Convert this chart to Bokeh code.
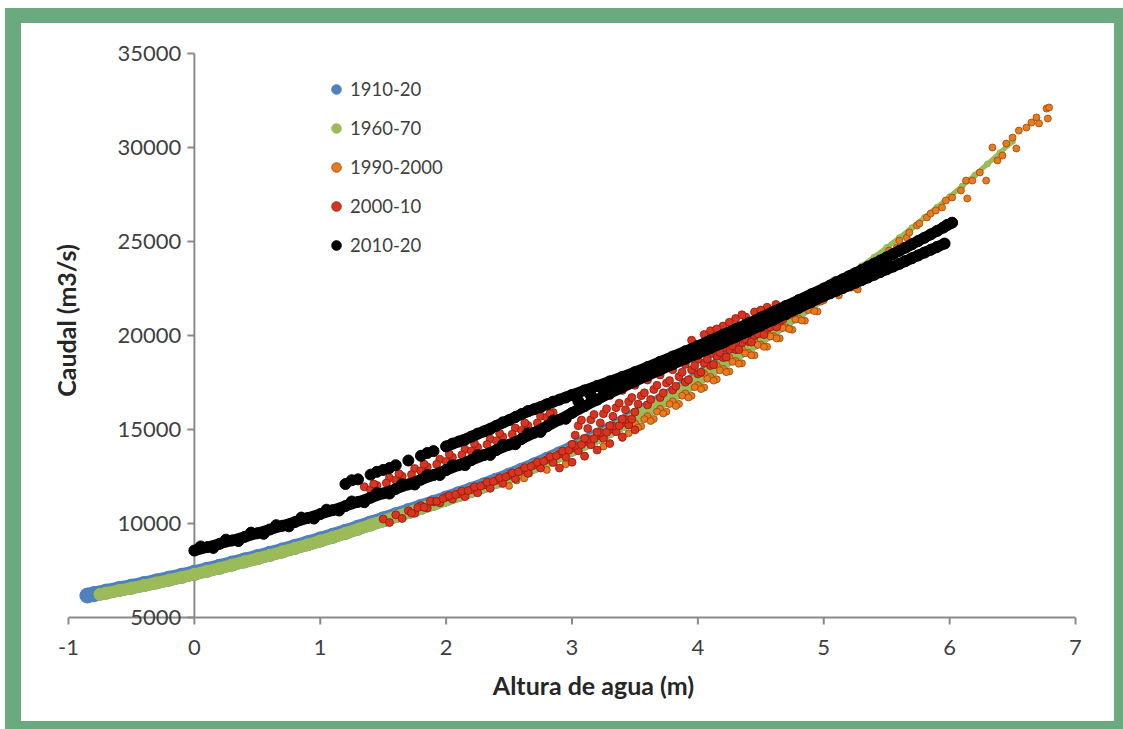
import numpy as np
from bokeh.plotting import figure
from bokeh.models import Range1d, Label, Legend, LegendItem
from bokeh.embed import file_html
from bokeh.resources import INLINE
from bokeh.core.properties import value

# ---------------- axes / labels ----------------
x_ticks = [-1, 0, 1, 2, 3, 4, 5, 6, 7]
y_ticks = [5000, 10000, 15000, 20000, 25000, 30000, 35000]
x_tick_labels = ["-1", "0", "1", "2", "3", "4", "5", "6", "7"]
y_tick_labels = ["5000", "10000", "15000", "20000", "25000", "30000", "35000"]
series_names = ["1910-20", "1960-70", "1990-2000", "2000-10", "2010-20"]
x_title = "Altura de agua (m)"
y_title = "Caudal (m3/s)"

# ---------------- 1910-20 (blue) ----------------
blue_x = [-0.85, -0.8, -0.7, -0.6, -0.5, -0.4, -0.3, -0.2, -0.1,
          0.0, 0.1, 0.2, 0.3, 0.4, 0.5, 0.6, 0.7, 0.8, 0.9,
          1.0, 1.1, 1.2, 1.3, 1.4, 1.5, 1.6, 1.7, 1.8, 1.9,
          2.0, 2.1, 2.2, 2.3, 2.4, 2.5, 2.6, 2.7, 2.8, 2.9,
          3.0, 3.1, 3.2, 3.3, 3.4, 3.5, 3.6, 3.7, 3.8, 3.9,
          4.0, 4.1, 4.2, 4.3, 4.4, 4.5, 4.6, 4.7, 4.8, 4.9,
          5.0, 5.1]
blue_y = [6170, 6240, 6380, 6510, 6640, 6780, 6920, 7070, 7220,
          7380, 7540, 7700, 7870, 8040, 8210, 8390, 8570, 8760, 8950,
          9150, 9350, 9560, 9780, 10000, 10220, 10440, 10660, 10880, 11100,
          11330, 11560, 11790, 12030, 12280, 12540, 12810, 13090, 13380, 13680,
          13990, 14310, 14640, 14980, 15340, 15710, 16090, 16480, 16880, 17300,
          17740, 18180, 18610, 19030, 19460, 19900, 20350, 20810, 21280, 21760,
          22250, 22750]

# ---------------- 1960-70 (green) ----------------
green_x = [-0.75, -0.7, -0.6, -0.5, -0.4, -0.3, -0.2, -0.1,
           0.0, 0.1, 0.2, 0.3, 0.4, 0.5, 0.6, 0.7, 0.8, 0.9,
           1.0, 1.1, 1.2, 1.3, 1.4, 1.5, 1.6, 1.7, 1.8, 1.9,
           2.0, 2.1, 2.2, 2.3, 2.4, 2.5, 2.6, 2.7, 2.8, 2.9,
           3.0, 3.1, 3.2, 3.3, 3.4, 3.5, 3.6, 3.7, 3.8, 3.9,
           4.0, 4.1, 4.2, 4.3, 4.4, 4.5, 4.6, 4.7, 4.8, 4.9,
           5.0, 5.1, 5.2, 5.3, 5.4, 5.5, 5.6, 5.7, 5.8, 5.9,
           6.0, 6.1, 6.2, 6.3, 6.4, 6.5]
green_y = [6230, 6300, 6430, 6560, 6700, 6840, 6990, 7140,
           7300, 7460, 7620, 7790, 7960, 8130, 8310, 8490, 8680, 8870,
           9070, 9270, 9480, 9700, 9920, 10140, 10360, 10580, 10800, 11020,
           11250, 11480, 11710, 11950, 12200, 12460, 12730, 13010, 13300, 13600,
           13910, 14230, 14560, 14900, 15260, 15630, 16010, 16400, 16800, 17220,
           17660, 18100, 18530, 18950, 19380, 19820, 20270, 20730, 21200, 21680,
           22170, 22670, 23180, 23700, 24170, 24680, 25200, 25730, 26270, 26820,
           27380, 27950, 28530, 29120, 29720, 30330]

# ---------------- 1990-2000 (orange) ----------------
orange_low_x = [2.5, 2.56, 2.62, 2.66, 2.8, 2.95, 3.1, 3.25, 3.4]
orange_low_y = [12000, 12290, 12400, 12660, 12850, 13150, 13600, 14100, 14550]
orange_a_x = [3.5, 3.6, 3.7, 3.8, 3.9, 4.0, 4.1, 4.2, 4.3, 4.4, 4.5, 4.6, 4.7, 4.8, 4.9, 5.0]
orange_a_y = [15330, 15710, 16100, 16500, 16920, 17360, 17800, 18230, 18650, 19080, 19520, 19970,
              20430, 20900, 21380, 21870]
orange_b_x = [3.45, 3.55, 3.65, 3.75, 3.85, 3.95, 4.05, 4.15, 4.25, 4.35, 4.45, 4.55, 4.65, 4.75, 4.85, 4.95]
orange_b_y = [14800, 15170, 15560, 15950, 16360, 16790, 17230, 17670, 18090, 18520, 18950, 19400,
              19850, 20310, 20790, 21280]
orange_c_x = [4.05, 4.15, 4.25, 4.35, 4.45, 4.55, 4.65, 4.75, 4.85, 4.95, 5.05]
orange_c_y = [17980, 18420, 18840, 19270, 19700, 20150, 20600, 21070, 21540, 22030, 22520]
orange_d_x = [3.525, 3.575, 3.625, 3.675, 3.725, 3.775, 3.825, 3.875, 3.925, 3.975,
              4.025, 4.075, 4.125, 4.175, 4.225, 4.275, 4.325, 4.375, 4.425, 4.475,
              4.525, 4.575, 4.625, 4.675, 4.725, 4.775, 4.825, 4.875, 4.925, 4.975, 5.025, 5.075]
orange_d_y = [15100, 15550, 15450, 15950, 15850, 16350, 16250, 16800, 16700, 17250,
              17150, 17700, 17600, 18150, 18050, 18600, 18500, 19050, 18950, 19500,
              19400, 19950, 19850, 20400, 20350, 20850, 20800, 21350, 21300, 21800, 22250, 22600]
orange_top_x = [5.12, 5.22, 5.27, 5.31, 5.40, 5.44, 5.50, 5.52, 5.58, 5.60,
                5.66, 5.68, 5.74, 5.76, 5.82, 5.85, 5.89, 5.94, 5.97, 6.02,
                6.09, 6.13, 6.14, 6.18, 6.24, 6.29, 6.34, 6.38, 6.42, 6.45,
                6.50, 6.53, 6.55, 6.61, 6.65, 6.69, 6.71, 6.77, 6.78, 6.79]
orange_top_y = [22130, 22550, 22450, 23080, 23620, 23990, 24250, 24520, 24680, 25050,
                25210, 25480, 25850, 25960, 26280, 26490, 26650, 26810, 27180, 27340,
                27710, 28240, 27290, 28240, 28670, 28240, 30000, 29310, 29570, 30210,
                30530, 29950, 30900, 31060, 31330, 31600, 31280, 32070, 31540, 32130]

# ---------------- 2000-10 (red) ----------------
red_a_x = [1.5, 1.6, 1.7, 1.8, 1.9, 2.0, 2.1, 2.2, 2.3, 2.4, 2.5, 2.6, 2.7, 2.8, 2.9, 3.0, 3.1, 3.2, 3.3, 3.4]
red_a_y = [10240, 10460, 10680, 10950, 11150, 11400, 11580, 11810, 12050, 12300, 12560, 12830, 13110,
           13400, 13700, 14010, 14330, 14660, 15000, 15360]
red_b_x = [1.55, 1.65, 1.75, 1.85, 1.95, 2.05, 2.15, 2.25, 2.35, 2.45, 2.55, 2.65, 2.75, 2.85, 2.95,
           3.05, 3.15, 3.25, 3.35, 3.45]
red_b_y = [10050, 10270, 10540, 10830, 11100, 11300, 11430, 11630, 11870, 12130, 12390, 12670, 12950,
           13250, 13550, 13870, 14190, 14530, 14880, 15240]
red_c_x = [1.725, 1.775, 1.825, 1.875, 1.925, 1.975, 2.025, 2.075, 2.125, 2.175, 2.225, 2.275,
           2.325, 2.375, 2.425, 2.475, 2.525, 2.575, 2.625, 2.675, 2.725, 2.775, 2.825, 2.875,
           2.925, 2.975, 3.025, 3.075, 3.125, 3.175, 3.225, 3.275, 3.325, 3.375, 3.425, 3.475]
red_c_y = [10560, 10850, 10860, 11190, 11190, 11330, 11490, 11540, 11720, 11750, 11950, 11990,
           12200, 12240, 12430, 12480, 12690, 12750, 12970, 13040, 13260, 13310, 13550, 13600,
           13850, 13900, 14150, 14200, 14480, 14510, 14830, 14850, 15170, 15200, 15530, 15550]
red_low_x = [2.9, 3.0, 3.1, 3.2, 3.3, 3.4, 3.5]
red_low_y = [12950, 13260, 13580, 13910, 14250, 14610, 14980]
red_mid_x = [1.35, 1.45, 1.55, 1.65, 1.75, 1.85, 1.95, 2.05, 2.15, 2.25, 2.35, 2.45, 2.55, 2.65, 2.75, 2.85,
             1.4, 1.6, 1.8, 2.0, 2.2, 2.4, 2.6, 2.8,
             1.425, 1.525, 1.625, 1.725, 1.825, 1.925, 2.025, 2.125, 2.225, 2.325, 2.425, 2.525,
             2.625, 2.725, 2.825]
red_mid_y = [11950, 12025, 12430, 12510, 12920, 13010, 13420, 13520, 13940, 14050, 14490, 14620, 15075,
             15210, 15700, 15900,
             11800, 12300, 12800, 13300, 13850, 14400, 14950, 15650,
             12100, 12150, 12650, 12600, 13150, 13150, 13700, 13650, 14250, 14200, 14800, 14750,
             15350, 15350, 15850]
red_d_x = [3.0, 3.1, 3.2, 3.3, 3.4, 3.5, 3.6, 3.7, 3.8, 3.9, 4.0, 4.1, 4.2, 4.3, 4.4, 4.5, 4.6, 4.7]
red_d_y = [14210, 14530, 14860, 15200, 15560, 15930, 16310, 16700, 17100, 17520, 17960, 18400, 18830,
           19250, 19680, 20120, 20570, 21030]
red_e_x = [3.05, 3.15, 3.25, 3.35, 3.45, 3.55, 3.65, 3.75, 3.85, 3.95, 4.05, 4.15, 4.25, 4.35, 4.45, 4.55, 4.65]
red_e_y = [15200, 15520, 15840, 16160, 16480, 16800, 17130, 17470, 17810, 18170, 18530, 18900, 19260,
           19620, 19990, 20370, 20750]
red_f_x = [3.0, 3.1, 3.2, 3.3, 3.4, 3.5, 3.6, 3.7, 3.8, 3.9, 4.0, 4.1, 4.2, 4.3]
red_f_y = [15850, 16200, 16500, 16800, 17080, 17350, 17630, 17900, 18180, 18460, 18740, 19030, 19320, 19620]
red_g_x = [3.025, 3.075, 3.125, 3.175, 3.225, 3.275, 3.325, 3.375, 3.425, 3.475,
           3.525, 3.575, 3.625, 3.675, 3.725, 3.775, 3.825, 3.875, 3.925, 3.975,
           4.025, 4.075, 4.125, 4.175, 4.225, 4.275, 4.325, 4.375, 4.425, 4.475,
           4.525, 4.575, 4.625, 4.675]
red_g_y = [14700, 15500, 15050, 15800, 15350, 16100, 15700, 16400, 16050, 16700,
           16350, 16950, 16600, 17350, 16950, 17600, 17300, 18050, 17650, 18400,
           18050, 18750, 18450, 19100, 18850, 19450, 19250, 19800, 19650, 20100,
           20050, 20450, 20450, 20850]
red_top_x = [3.95, 4.1, 4.2, 4.3, 4.38, 4.45, 4.55, 4.62, 4.68, 4.74, 4.75, 4.85, 4.9,
             4.05, 4.15, 4.25, 4.35, 4.5, 4.6, 4.7]
red_top_y = [19750, 20250, 20500, 20900, 20980, 21250, 21500, 21650, 21430, 21700, 21200, 21600, 21950,
             20050, 20350, 20700, 21100, 21350, 21300, 21500]

# ---------------- 2010-20 (black) ----------------
black_a_x = [0.0, 0.1, 0.2, 0.3, 0.4, 0.5, 0.6, 0.7, 0.8, 0.9,
             1.0, 1.1, 1.2, 1.3, 1.4, 1.5, 1.6, 1.7, 1.8, 1.9,
             2.0, 2.1, 2.2, 2.3, 2.4, 2.5, 2.6, 2.7, 2.8, 2.9,
             3.0, 3.1, 3.2, 3.3, 3.4, 3.5, 3.6, 3.7, 3.8, 3.9,
             4.0, 4.1, 4.2, 4.3, 4.4, 4.5, 4.6, 4.7, 4.8, 4.9,
             5.0, 5.1, 5.2, 5.3, 5.4, 5.5, 5.6, 5.7, 5.8, 5.9, 5.96]
black_a_y = [8560, 8740, 8920, 9100, 9290, 9480, 9680, 9880, 10080, 10290,
             10500, 10710, 10930, 11150, 11370, 11600, 11840, 12080, 12330, 12580,
             12840, 13100, 13370, 13640, 13910, 14190, 14500, 14830, 15170, 15520,
             15880, 16240, 16590, 16930, 17250, 17560, 17870, 18170, 18470, 18760,
             19040, 19330, 19620, 19920, 20220, 20530, 20840, 21150, 21460, 21780,
             22100, 22380, 22660, 22940, 23230, 23520, 23810, 24110, 24410, 24710, 24890]
black_b_x = [1.2, 1.3, 1.4, 1.5, 1.6, 1.7, 1.8, 1.9,
             2.0, 2.1, 2.2, 2.3, 2.4, 2.5, 2.6, 2.7, 2.8, 2.9,
             3.0, 3.1, 3.2, 3.3, 3.4, 3.5, 3.6, 3.7, 3.8, 3.9,
             4.0, 4.1, 4.2, 4.3, 4.4, 4.5, 4.6, 4.7, 4.8, 4.9,
             5.0, 5.1, 5.2, 5.3, 5.4, 5.5, 5.6, 5.7, 5.8, 5.9, 6.02]
black_b_y = [12100, 12350, 12600, 12850, 13100, 13350, 13600, 13850,
             14100, 14360, 14620, 14900, 15200, 15500, 15820, 16080, 16340, 16590,
             16840, 17080, 17320, 17560, 17800, 18050, 18320, 18600, 18880, 19160,
             19440, 19740, 20040, 20340, 20640, 20950, 21260, 21570, 21880, 22190,
             22500, 22820, 23150, 23480, 23820, 24160, 24500, 24850, 25200, 25560, 26000]
black_c_x = [0.05, 0.15, 0.25, 0.35, 0.45, 0.55, 0.65, 0.75, 0.85, 0.95,
             1.05, 1.15, 1.25, 1.35, 1.45, 1.55, 1.65, 1.75, 1.85, 1.95,
             2.05, 2.15, 2.25, 2.35, 2.45, 2.55, 2.65, 2.75, 2.85, 2.95,
             3.05, 3.15, 3.25, 3.35, 3.45, 3.55, 3.65, 3.75, 3.85, 3.95,
             4.05, 4.15, 4.25, 4.35, 4.45, 4.55, 4.65, 4.75, 4.85, 4.95]
black_c_y = [8780, 8700, 9140, 9065, 9515, 9450, 9910, 9850, 10315, 10265,
             10735, 10690, 11170, 11130, 11615, 11590, 12090, 12075, 12585, 12580,
             13100, 13105, 13635, 13645, 14180, 14215, 14795, 14870, 15475, 15570,
             16510, 16810, 17100, 17385, 17665, 17950, 18240, 18530, 18820, 19100,
             19390, 19680, 19980, 20280, 20585, 20895, 21205, 21515, 21830, 22140]
black_d_x = [5.05, 5.15, 5.25, 5.35, 5.45, 5.55, 5.65, 5.75, 5.85, 5.95, 5.98,
             5.05, 5.15, 5.25, 5.35, 5.45, 5.55, 5.65, 5.75, 5.85,
             1.25, 1.45, 1.55, 1.85, 2.05, 2.15, 2.25, 2.35, 2.45, 2.55, 2.65, 2.75, 2.85, 2.95]
black_d_y = [22660, 22985, 23315, 23650, 23990, 24330, 24675, 25025, 25380, 25740, 25880,
             22240, 22520, 22800, 23085, 23375, 23665, 23960, 24260, 24560,
             12300, 12750, 12950, 13750, 14250, 14450, 14780, 15020, 15380, 15660, 15980, 16180, 16480, 16700]

# ---------------- styling ----------------
FONT = "Lato"
AXIS_COLOR = "#8a8a8a"
TICK_TEXT = "#3f3f3f"
TITLE_TEXT = "#262626"
FRAME_GREEN = "#6BAA7E"
W, H = 1118, 721          # host box (border-box); drawing canvas is W x H at the inner corner

p = figure(width=W, height=H,
           x_range=Range1d(-1.37339, 7.50844), y_range=Range1d(-1755.4, 36595.7),
           x_axis_type=None, y_axis_type=None, toolbar_location=None,
           output_backend="svg", min_border=0, outline_line_color=None,
           background_fill_color="white", border_fill_color="white")
p.grid.visible = False
p.styles = {"margin-left": "5px", "margin-top": "8px",
            "border-style": "solid", "border-color": FRAME_GREEN,
            "border-width": "15px 9px 8px 16px"}

# axes (vertical axis crosses at x = 0)
p.segment(x0=[x_ticks[0]], y0=[y_ticks[0]], x1=[x_ticks[-1]], y1=[y_ticks[0]],
          line_color=AXIS_COLOR, line_width=2)
p.segment(x0=[0], y0=[y_ticks[0]], x1=[0], y1=[y_ticks[-1]],
          line_color=AXIS_COLOR, line_width=2)
p.ray(x=x_ticks, y=[y_ticks[0]] * len(x_ticks), length=7, length_units="screen",
      angle=-np.pi / 2, line_color=AXIS_COLOR, line_width=2)
p.ray(x=[0] * len(y_ticks), y=y_ticks, length=7, length_units="screen",
      angle=np.pi, line_color=AXIS_COLOR, line_width=2)

# data
BLUE, GREEN = "#4F81BD", "#9BBB59"
ORANGE, ORANGE_EDGE = "#E97A1E", "#954a0c"
RED, RED_EDGE = "#DA3420", "#8a1a0c"

p.line(blue_x, blue_y, line_color=BLUE, line_width=15, line_cap="round")
r_blue = p.scatter(blue_x, blue_y, size=15, fill_color=BLUE, line_color=BLUE)

n_dense = sum(1 for gx in green_x if gx <= 5.0)
p.line(green_x[:n_dense], green_y[:n_dense], line_color=GREEN, line_width=12, line_cap="round")
p.line(green_x[n_dense - 1:], green_y[n_dense - 1:], line_color=GREEN, line_width=5, line_cap="round")
green_sizes = [12 if gx <= 5.0 else 6 for gx in green_x]
r_green = p.scatter(green_x, green_y, size=green_sizes, fill_color=GREEN, line_color=GREEN)

orange_x = orange_low_x + orange_a_x + orange_b_x + orange_c_x + orange_d_x + orange_top_x
orange_y = orange_low_y + orange_a_y + orange_b_y + orange_c_y + orange_d_y + orange_top_y
r_orange = p.scatter(orange_x, orange_y, size=7, fill_color=ORANGE,
                     line_color=ORANGE_EDGE, line_width=0.8)

red_x = (red_a_x + red_b_x + red_c_x + red_low_x + red_mid_x + red_d_x + red_e_x
         + red_f_x + red_g_x + red_top_x)
red_y = (red_a_y + red_b_y + red_c_y + red_low_y + red_mid_y + red_d_y + red_e_y
         + red_f_y + red_g_y + red_top_y)
r_red = p.scatter(red_x, red_y, size=8, fill_color=RED, line_color=RED_EDGE, line_width=0.8)

p.line(black_a_x, black_a_y, line_color="black", line_width=11, line_cap="round")
p.line(black_b_x[8:], black_b_y[8:], line_color="black", line_width=11, line_cap="round")
black_x = black_a_x + black_b_x + black_c_x + black_d_x
black_y = black_a_y + black_b_y + black_c_y + black_d_y
r_black = p.scatter(black_x, black_y, size=11, fill_color="black", line_color="black")

# tick labels
p.text(x=x_ticks, y=[y_ticks[0]] * len(x_ticks), text=x_tick_labels,
       text_align="center", text_baseline="middle", y_offset=30,
       text_font=value(FONT), text_font_size="22px", text_color=TICK_TEXT)
p.text(x=[0] * len(y_ticks), y=y_ticks, text=y_tick_labels,
       text_align="right", text_baseline="middle", x_offset=-13,
       text_font=value(FONT), text_font_size="22px", text_color=TICK_TEXT)

# titles (screen units measured from the canvas bottom-left)
p.add_layout(Label(x=572, y=H - 661, x_units="screen", y_units="screen", text=x_title,
                   text_align="center", text_baseline="middle", text_font=FONT,
                   text_font_size="25px", text_font_style="bold", text_color=TITLE_TEXT))
p.add_layout(Label(x=44, y=H - 297, x_units="screen", y_units="screen", text=y_title,
                   angle=np.pi / 2, text_align="center", text_baseline="middle",
                   text_font=FONT, text_font_size="25px", text_font_style="bold",
                   text_color=TITLE_TEXT))

legend = Legend(items=[LegendItem(label=series_names[0], renderers=[r_blue]),
                       LegendItem(label=series_names[1], renderers=[r_green]),
                       LegendItem(label=series_names[2], renderers=[r_orange]),
                       LegendItem(label=series_names[3], renderers=[r_red]),
                       LegendItem(label=series_names[4], renderers=[r_black])],
                location=(303, H - 54 - 180), orientation="vertical",
                glyph_width=24, glyph_height=24, label_height=24, spacing=15,
                label_standoff=2, padding=0, margin=0,
                border_line_color=None, background_fill_alpha=0,
                label_text_font=FONT, label_text_font_size="18.5px",
                label_text_color=TICK_TEXT)
p.add_layout(legend)

open("out.html", "w").write(file_html(p, INLINE))
